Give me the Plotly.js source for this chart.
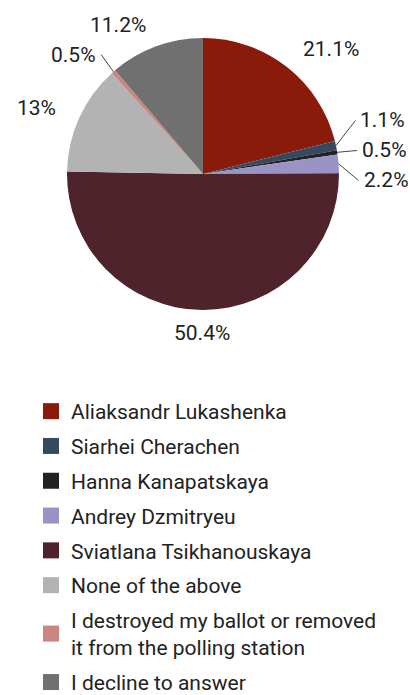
<!DOCTYPE html>
<html>
<head>
<meta charset="utf-8">
<script src="https://cdn.plot.ly/plotly-3.0.1.min.js"></script>
<style>html,body{margin:0;padding:0;background:#fff;}#chart{width:410px;height:695px;}</style>
</head>
<body>
<div id="chart"></div>
<script>
const categories = [
  "Aliaksandr Lukashenka",
  "Siarhei Cherachen",
  "Hanna Kanapatskaya",
  "Andrey Dzmitryeu",
  "Sviatlana Tsikhanouskaya",
  "None of the above",
  "I destroyed my ballot or removed<br>it from the polling station",
  "I decline to answer"
];
const shares = [21.1, 1.1, 0.5, 2.2, 50.4, 13, 0.5, 11.2];
const colors = ["#8A1A0A", "#344A5E", "#222222", "#9A93C6", "#4E232C", "#B3B3B3", "#C8887F", "#707070"];

const W = 410, H = 695;
const FONT = "Roboto, sans-serif";
const TXT = "#222";
const domX = [0.1634, 0.8268], domY = [0.554, 0.9453];

const pie = {
  type: "pie",
  labels: categories,
  values: shares,
  sort: false,
  direction: "clockwise",
  rotation: 0,
  marker: {colors: colors, line: {width: 0}},
  textinfo: "none",
  showlegend: false,
  hoverinfo: "label+percent",
  domain: {x: domX, y: domY}
};

// legend entries (one per slice, same colours and labels)
const legendTraces = categories.map((c, i) => ({
  type: "scatter", mode: "markers", x: [null], y: [null],
  name: c, legendgroup: "g" + i,
  marker: {symbol: "square", size: 16, color: colors[i]},
  hoverinfo: "skip", showlegend: true
}));

// outside labels placed from the slice angles
const cx = (domX[0] + domX[1]) / 2 * W;
const cy = (1 - (domY[0] + domY[1]) / 2) * H;
const r = Math.min((domX[1] - domX[0]) * W, (domY[1] - domY[0]) * H) / 2;
const total = shares.reduce((a, b) => a + b, 0);
const gap = 23;
let cum = 0;
const labs = shares.map((v, i) => {
  const mid = (cum + v / 2) / total; cum += v;
  const th = mid * 2 * Math.PI;
  const s = Math.sin(th), c = -Math.cos(th);
  return {i, v, s, c, ex: cx + r * s, ey: cy + r * c,
          x: cx + (r + gap) * s, y: cy + (r + gap) * c,
          xa: s > 0.3 ? "left" : (s < -0.3 ? "right" : "center"),
          ya: "middle"};
});
// spread overlapping side labels
const minGap = 30;
["left", "right"].forEach(side => {
  const grp = labs.filter(l => l.xa === side).sort((a, b) => a.y - b.y);
  let clusters = grp.map(l => ({items: [l], want: [l.y]}));
  let changed = true;
  const place = cl => {
    const n = cl.items.length;
    const m = cl.want.reduce((a, b) => a + b, 0) / n;
    cl.items.forEach((l, k) => { l.y = m + (k - (n - 1) / 2) * minGap; });
  };
  clusters.forEach(place);
  while (changed) {
    changed = false;
    for (let k = 0; k < clusters.length - 1; k++) {
      const a = clusters[k], b = clusters[k + 1];
      if (b.items[0].y - a.items[a.items.length - 1].y < minGap) {
        a.items = a.items.concat(b.items); a.want = a.want.concat(b.want);
        clusters.splice(k + 1, 1); place(a); changed = true; break;
      }
    }
  }
});

const annotations = labs.map(l => ({
  xref: "paper", yref: "paper", x: l.x / W, y: 1 - l.y / H,
  xanchor: l.xa, yanchor: l.ya, showarrow: false,
  text: shares[l.i] + "%", font: {family: FONT, size: 21, color: TXT}
}));
const shapes = labs.filter(l => l.v < 3).map(l => {
  const dx = l.xa === "left" ? -3 : (l.xa === "right" ? 3 : 0);
  return {type: "line", xref: "paper", yref: "paper",
          x0: l.ex / W, y0: 1 - l.ey / H, x1: (l.x + dx) / W, y1: 1 - l.y / H,
          line: {color: "#444", width: 1}};
});

const layout = {
  width: W, height: H,
  margin: {l: 0, r: 0, t: 0, b: 0, pad: 0, autoexpand: false},
  paper_bgcolor: "#fff", plot_bgcolor: "rgba(0,0,0,0)",
  font: {family: FONT, size: 21, color: TXT},
  xaxis: {visible: false, fixedrange: true},
  yaxis: {visible: false, fixedrange: true},
  showlegend: true,
  annotations: annotations,
  shapes: shapes,
  legend: {x: 31 / W, xanchor: "left", y: 1 - 391 / H, yanchor: "top", orientation: "v",
           font: {family: FONT, size: 21, color: TXT}, traceorder: "grouped", tracegroupgap: 4.5,
           maxheight: 1}
};

Plotly.newPlot("chart", [pie].concat(legendTraces), layout, {displayModeBar: false, staticPlot: true});
</script>
</body>
</html>
